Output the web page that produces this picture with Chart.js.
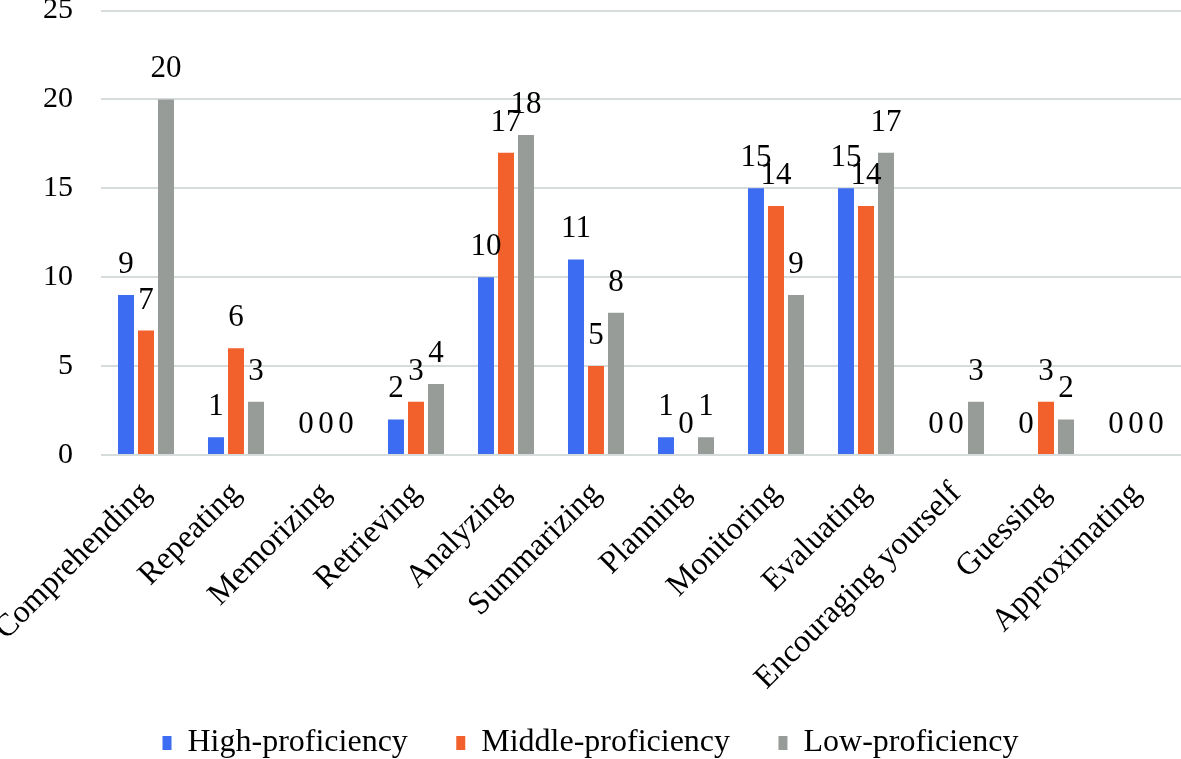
<!DOCTYPE html>
<html>
<head>
<meta charset="utf-8">
<script src="https://cdn.jsdelivr.net/npm/chart.js@4"></script>
<style>
  html, body { margin: 0; padding: 0; background: #fff; }
  #wrap { width: 1181px; height: 759px; }
</style>
</head>
<body>
<div id="wrap"><canvas id="ctx"></canvas></div>
<script>
const categories = ["Comprehending", "Repeating", "Memorizing", "Retrieving", "Analyzing", "Summarizing",
    "Planning", "Monitoring", "Evaluating", "Encouraging yourself", "Guessing", "Approximating"];
const seriesNames = ["High-proficiency", "Middle-proficiency", "Low-proficiency"];
const highValues = [9, 1, 0, 2, 10, 11, 1, 15, 15, 0, 0, 0];
const middleValues = [7, 6, 0, 3, 17, 5, 0, 14, 14, 0, 3, 0];
const lowValues = [20, 3, 0, 4, 18, 8, 1, 9, 17, 3, 2, 0];
const yTicks = [0, 5, 10, 15, 20, 25];

var serif = "'Liberation Serif', 'Times New Roman', serif";

// draws the value above every bar
const valueLabels = {
    id: "valueLabels",
    afterDatasetsDraw(chart) {
        const c = chart.ctx;
        c.save();
        c.font = "31px " + serif;
        c.fillStyle = "#000";
        c.textAlign = "center";
        c.textBaseline = "alphabetic";
        chart.data.datasets.forEach((ds, i) => {
            chart.getDatasetMeta(i).data.forEach((bar, j) => {
                c.fillText(String(ds.data[j]), bar.x, bar.y - 22);
            });
        });
        c.restore();
    }
};

new Chart("ctx", {
    type: "bar",
    data: {
        labels: categories,
        datasets: [
            { label: seriesNames[0], data: highValues, backgroundColor: "#3b6cf2" },
            { label: seriesNames[1], data: middleValues, backgroundColor: "#f2602b" },
            { label: seriesNames[2], data: lowValues, backgroundColor: "#979c98" }
        ]
    },
    options: {
        responsive: true,
        maintainAspectRatio: false,
        animation: false,
        layout: { padding: 0 },
        datasets: {
            bar: { categoryPercentage: 0.667, barPercentage: 0.8 }
        },
        plugins: {
            tooltip: { enabled: false },
            legend: {
                position: "bottom",
                maxHeight: 42,
                labels: {
                    color: "#000",
                    font: { family: serif, size: 32 },
                    boxWidth: 9,
                    boxHeight: 14,
                    padding: 10,
                    generateLabels(chart) {
                        const items = Chart.defaults.plugins.legend.labels.generateLabels(chart);
                        // wider gap between items, like the original
                        items.forEach((it, i) => {
                            if (i < items.length - 1) it.text = it.text + "    \u2009";
                        });
                        return items;
                    }
                }
            }
        },
        scales: {
            x: {
                grid: { display: false },
                border: { display: false },
                ticks: {
                    color: "#000",
                    font: { family: serif, size: 32 },
                    minRotation: 45,
                    maxRotation: 45,
                    autoSkip: false,
                    padding: 12
                },
                afterFit(scale) {
                    scale.height = 262;
                    scale.paddingLeft = 0;
                    scale.paddingRight = 0;
                }
            },
            y: {
                min: 0,
                max: 25,
                border: { display: false },
                grid: { color: "#d6dbdb", lineWidth: 2, drawTicks: true, tickLength: 28, tickColor: "rgba(0,0,0,0)" },
                afterBuildTicks(scale) { scale.ticks = yTicks.map(v => ({ value: v })); },
                ticks: {
                    color: "#000",
                    font: { family: serif, size: 30, lineHeight: 0.7 },
                    padding: 0
                },
                afterFit(scale) { scale.width = 101; }
            }
        }
    },
    plugins: [valueLabels]
});
</script>
</body>
</html>
